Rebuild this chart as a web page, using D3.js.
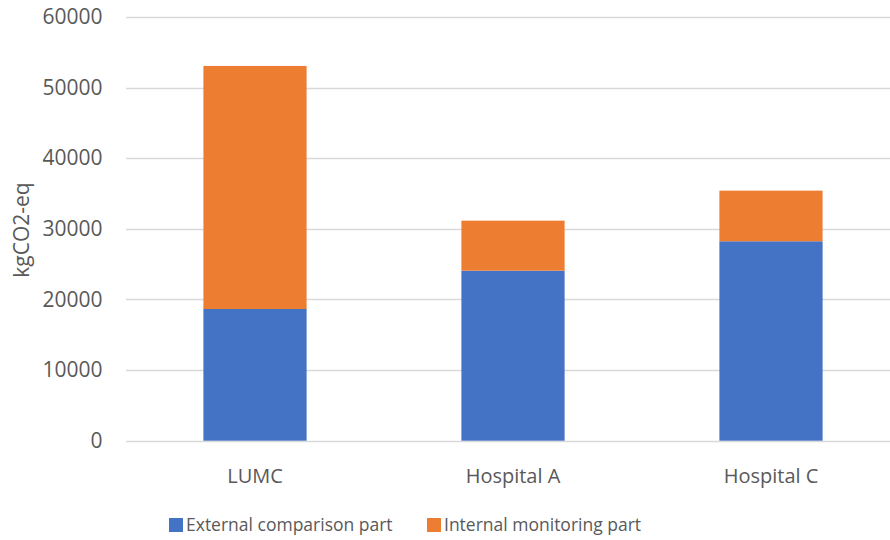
<!DOCTYPE html>
<html>
<head>
<meta charset="utf-8">
<script src="https://cdn.jsdelivr.net/npm/d3@7"></script>
<style>
  html, body { margin: 0; padding: 0; background: #ffffff; }
  svg { display: block; }
  text { font-family: "Open Sans", "Liberation Sans", sans-serif; fill: #595959; }
</style>
</head>
<body>
<svg id="chart" width="890" height="540"></svg>
<script>
// Emissions per hospital, split into the two parts of the footprint
const categories = ["LUMC", "Hospital A", "Hospital C"];
const externalPart = [18650, 24080, 28240];
const internalPart = [34420, 7080, 7170];
const seriesNames = ["External comparison part", "Internal monitoring part"];
const seriesColors = ["#4472C4", "#ED7D31"];
const yTicks = [0, 10000, 20000, 30000, 40000, 50000, 60000];
const yTitle = "kgCO2-eq";

const svg = d3.select("#chart");
const W = 890, H = 540;

const x = d3.scaleBand()
  .domain(categories)
  .range([126, 900])
  .paddingInner(0.6)
  .paddingOuter(0.3);

const y = d3.scaleLinear()
  .domain([0, 60000])
  .range([440.7, 17]);

const rows = categories.map((c, i) => ({
  category: c,
  external: externalPart[i],
  internal: internalPart[i]
}));
const stack = d3.stack().keys(["external", "internal"]);
const layers = stack(rows);

// gridlines
svg.append("g")
  .selectAll("line")
  .data(yTicks)
  .join("line")
  .attr("x1", 126)
  .attr("x2", W)
  .attr("y1", d => Math.round(y(d)) + 0.5)
  .attr("y2", d => Math.round(y(d)) + 0.5)
  .attr("stroke", "#D9D9D9")
  .attr("stroke-width", 1.3);

// y axis labels
const yAxis = d3.axisLeft(y).tickValues(yTicks).tickFormat(d3.format("d")).tickSize(0).tickPadding(0);
const yg = svg.append("g").attr("transform", "translate(102.5,0)").call(yAxis);
yg.select(".domain").remove();
yg.selectAll("text")
  .attr("font-size", 21)
  .attr("fill", "#595959")
  .style("font-family", "'Open Sans', sans-serif");

// stacked bars
svg.append("g")
  .selectAll("g")
  .data(layers)
  .join("g")
  .attr("fill", (d, i) => seriesColors[i])
  .selectAll("rect")
  .data(d => d)
  .join("rect")
  .attr("x", d => x(d.data.category))
  .attr("width", x.bandwidth())
  .attr("y", d => y(d[1]))
  .attr("height", d => y(d[0]) - y(d[1]));

// x axis labels
const xAxis = d3.axisBottom(x).tickSize(0).tickPadding(0);
const xg = svg.append("g").attr("transform", "translate(0,468.5)").call(xAxis);
xg.select(".domain").remove();
xg.selectAll("text")
  .attr("font-size", 20)
  .attr("fill", "#595959")
  .attr("dy", "0.71em")
  .style("font-family", "'Open Sans', sans-serif");

// y axis title
svg.append("text")
  .attr("transform", "translate(29,230) rotate(-90)")
  .attr("text-anchor", "middle")
  .attr("font-size", 21)
  .text(yTitle);

// legend
const legendItems = [
  { name: seriesNames[0], color: seriesColors[0], x: 169 },
  { name: seriesNames[1], color: seriesColors[1], x: 427 }
];
const lg = svg.append("g");
legendItems.forEach(item => {
  lg.append("rect")
    .attr("x", item.x)
    .attr("y", 518)
    .attr("width", 14)
    .attr("height", 14)
    .attr("fill", item.color);
  lg.append("text")
    .attr("x", item.x + 17)
    .attr("y", 525)
    .attr("dy", "0.35em")
    .attr("font-size", 17.5)
    .text(item.name);
});
</script>
</body>
</html>
